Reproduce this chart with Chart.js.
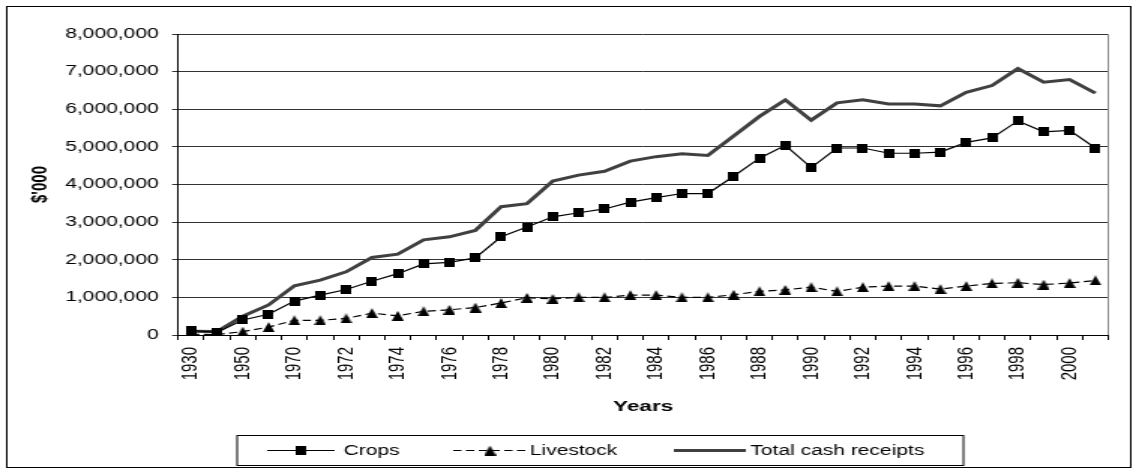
<!DOCTYPE html>
<html>
<head>
<meta charset="utf-8">
<script src="https://cdn.jsdelivr.net/npm/chart.js@4"></script>
<style>
  body { margin: 0; background: #fff; }
  /* the source picture is stretched sideways, so the chart is drawn narrow and widened */
  #wrap { width: 755px; height: 470px; transform: scaleX(1.5007); transform-origin: 0 0; }
</style>
</head>
<body>
<div id="wrap"><canvas id="chart"></canvas></div>
<script>
const years = ['1930','1940','1950','1960','1970','1971','1972','1973','1974','1975','1976','1977',
  '1978','1979','1980','1981','1982','1983','1984','1985','1986','1987','1988','1989','1990',
  '1991','1992','1993','1994','1995','1996','1997','1998','1999','2000','2001'];

const crops = [120000, 70000, 400000, 550000, 900000, 1060000, 1210000, 1430000, 1630000, 1890000,
  1930000, 2050000, 2610000, 2870000, 3140000, 3250000, 3350000, 3530000, 3650000, 3760000,
  3760000, 4220000, 4700000, 5040000, 4450000, 4970000, 4970000, 4830000, 4830000, 4860000,
  5120000, 5240000, 5690000, 5400000, 5440000, 4970000];

const livestock = [20000, 10000, 90000, 210000, 390000, 390000, 440000, 580000, 510000, 630000,
  670000, 730000, 850000, 990000, 960000, 1000000, 1000000, 1060000, 1060000, 1000000,
  1000000, 1070000, 1160000, 1200000, 1270000, 1160000, 1270000, 1300000, 1300000, 1220000,
  1300000, 1370000, 1390000, 1340000, 1380000, 1450000];

const total = [100000, 90000, 500000, 800000, 1310000, 1460000, 1680000, 2060000, 2150000, 2530000,
  2610000, 2780000, 3410000, 3490000, 4090000, 4250000, 4350000, 4620000, 4740000, 4820000,
  4770000, 5290000, 5810000, 6250000, 5710000, 6170000, 6250000, 6140000, 6140000, 6090000,
  6450000, 6630000, 7080000, 6720000, 6790000, 6430000];

const yMax = 8000000;
const yStep = 1000000;

const font = 'Liberation Sans, Arial, sans-serif';

// small marker images (kept narrow because of the sideways stretch)
function marker(w, h, draw) {
  const c = document.createElement('canvas');
  c.width = w; c.height = h;
  const g = c.getContext('2d');
  g.fillStyle = '#000';
  draw(g, w, h);
  return c;
}
const square = marker(7, 9, (g, w, h) => g.fillRect(0, 0, w, h));
const triangle = marker(8, 10, (g, w, h) => {
  g.beginPath(); g.moveTo(w / 2, 0); g.lineTo(w, h); g.lineTo(0, h); g.closePath(); g.fill();
});

const legendItems = [
  { label: 'Crops', color: '#000', width: 1.2, dash: [], img: square, x0: 178, x1: 223, tx: 229 },
  { label: 'Livestock', color: '#000', width: 1.2, dash: [5.5, 3], img: triangle, x0: 302, x1: 351, tx: 353 },
  { label: 'Total cash receipts', color: '#404040', width: 3, dash: [], img: null, x0: 449, x1: 497, tx: 500 }
];

const frame = {
  id: 'frame',
  beforeDatasetsDraw(chart) {
    const a = chart.chartArea, ctx = chart.ctx;
    ctx.save();
    ctx.strokeStyle = '#888';
    ctx.lineWidth = 1;
    ctx.beginPath();
    ctx.moveTo(Math.round(a.right) - 0.5, a.top);
    ctx.lineTo(Math.round(a.right) - 0.5, a.bottom);
    ctx.stroke();
    ctx.restore();
  },
  afterDraw(chart) {
    const ctx = chart.ctx;
    ctx.save();
    ctx.strokeStyle = '#000';
    ctx.lineWidth = 1;
    ctx.strokeRect(4.5, 6.5, 749, 461);
    ctx.strokeRect(158, 435.5, 484, 30);

    const y = 450.5;
    ctx.font = '14px ' + font;
    ctx.textBaseline = 'middle';
    ctx.fillStyle = '#000';
    legendItems.forEach(it => {
      ctx.strokeStyle = it.color;
      ctx.lineWidth = it.width;
      ctx.setLineDash(it.dash);
      ctx.beginPath();
      ctx.moveTo(it.x0, y);
      ctx.lineTo(it.x1, y);
      ctx.stroke();
      if (it.img) {
        const mx = (it.x0 + it.x1) / 2;
        ctx.drawImage(it.img, mx - it.img.width / 2, y - it.img.height / 2);
      }
      ctx.fillText(it.label, it.tx, y + 1);
    });
    ctx.restore();
  }
};

new Chart(document.getElementById('chart'), {
  type: 'line',
  data: {
    labels: years,
    datasets: [
      { label: 'Crops', data: crops, borderColor: '#000', borderWidth: 1.2,
        pointStyle: square, pointRadius: 5, tension: 0 },
      { label: 'Livestock', data: livestock, borderColor: '#000', borderWidth: 1.2,
        borderDash: [5.5, 3], pointStyle: triangle, pointRadius: 5, tension: 0 },
      { label: 'Total cash receipts', data: total, borderColor: '#404040', borderWidth: 3,
        pointRadius: 0, tension: 0 }
    ]
  },
  options: {
    responsive: true,
    maintainAspectRatio: false,
    animation: false,
    layout: { padding: { left: 14, right: 5.7, top: 34, bottom: 50 } },
    plugins: { legend: { display: false }, tooltip: { enabled: false } },
    scales: {
      x: {
        offset: true,
        grid: { offset: true, drawOnChartArea: false, tickLength: 5, color: '#000' },
        border: { color: '#000' },
        ticks: {
          autoSkip: false, minRotation: 90, maxRotation: 90, padding: 7,
          color: '#000', font: { family: font, size: 15 },
          callback: (v, i) => i % 2 === 0 ? years[i] : ''
        },
        title: { display: true, text: 'Years', color: '#000',
          font: { family: font, size: 15, weight: 'bold' }, padding: { top: 0, bottom: 4 } },
        afterFit: s => { s.height = 85; }
      },
      y: {
        min: 0, max: yMax,
        grid: { color: '#333', tickLength: 4 },
        border: { color: '#000' },
        ticks: {
          stepSize: yStep, padding: 9, color: '#000', font: { family: font, size: 14 },
          callback: v => v.toLocaleString('en-US')
        },
        title: { display: true, text: "$'000", color: '#000',
          font: { family: font, size: 15, weight: 'bold' }, padding: { top: 4, bottom: 4 } },
        afterFit: s => { s.width = 104.7; }
      }
    }
  },
  plugins: [frame]
});
</script>
</body>
</html>
